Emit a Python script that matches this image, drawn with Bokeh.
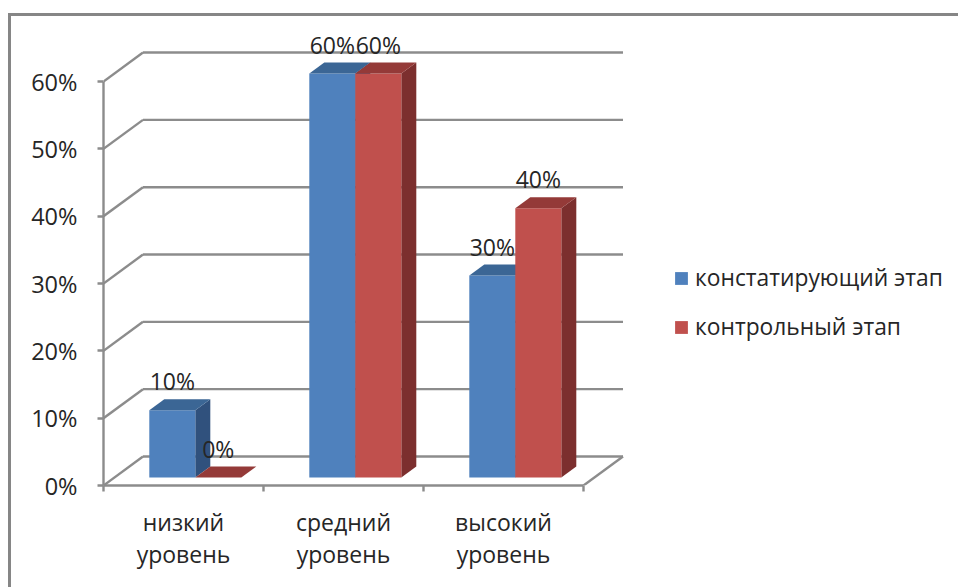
from bokeh.core.properties import value
from bokeh.embed import file_html
from bokeh.models import (ColumnDataSource, FixedTicker, Legend,
                          LegendItem, LinearAxis, Range1d)
from bokeh.plotting import figure
from bokeh.resources import INLINE

# Survey results in percent
categories = ["низкий\nуровень", "средний\nуровень", "высокий\nуровень"]
series_names = ["констатирующий этап", "контрольный этап"]
stage_a = [10, 60, 30]
stage_b = [0, 60, 40]
y_ticks = [0, 10, 20, 30, 40, 50, 60]

FONT = "Open Sans"
TEXT = "#262626"
GRID = "#8C8C8C"

# Canvas scale: one category is 160 px wide, ten percent is about 67 px tall
PX_X = 160.0
PX_Y = 6.733
W, H = 958, 587
LEFT, BOTTOM = 103, 102

# Oblique projection offsets of the box and of the bars
box_dx, box_dy = 39.5 / PX_X, 29 / PX_Y
bar_dx, bar_dy = 15 / PX_X, 11 / PX_Y
bar_w = 46 / PX_X
bar_start = 45.8 / PX_X
bar_base = 8 / PX_Y
label_lift = 29 / PX_Y

# The chart area frame runs off the right and bottom of the page
FRAME_CSS = """
:host::after {
  content: "";
  position: absolute;
  left: 8px;
  top: 12.5px;
  width: 970px;
  height: 600px;
  border: 3px solid #868686;
  pointer-events: none;
}
:host { overflow: hidden; }
"""

p = figure(
    width=W, height=H, output_backend="svg", toolbar_location=None,
    x_range=Range1d(0, (W - LEFT) / PX_X),
    y_range=Range1d(0, (H - BOTTOM) / PX_Y),
    x_axis_type=None, y_axis_type=None,
    min_border_left=LEFT, min_border_bottom=BOTTOM,
    min_border_top=0, min_border_right=0,
    stylesheets=[FRAME_CSS],
)
p.outline_line_color = None
p.grid.visible = False
p.background_fill_color = "white"
p.border_fill_color = "white"

# Back wall grid lines, side wall lines and the right floor edge
n = len(categories)
grid_xs, grid_ys = [], []
for t in y_ticks:
    grid_xs += [[box_dx, n + box_dx], [0, box_dx]]
    grid_ys += [[t + box_dy, t + box_dy], [t, t + box_dy]]
grid_xs.append([n, n + box_dx])
grid_ys.append([0, box_dy])
p.multi_line(grid_xs, grid_ys, line_color=GRID, line_width=2.4)


def draw_series(values, slot, front, top, side):
    """Draw one series as extruded bars: front faces, tops and side faces."""
    lefts = [i + bar_start + slot * bar_w for i in range(n)]
    rights = [x + bar_w for x in lefts]
    tops = [bar_base + v for v in values]
    bottoms = [bar_base] * n
    top_xs = [[l, r, r + bar_dx, l + bar_dx] for l, r in zip(lefts, rights)]
    top_ys = [[t, t, t + bar_dy, t + bar_dy] for t in tops]
    side_xs = [[r, r + bar_dx, r + bar_dx, r] for r in rights]
    side_ys = [[bar_base, bar_base + bar_dy, t + bar_dy, t] for t in tops]
    p.patches(side_xs, side_ys, fill_color=side, line_color=None)
    faces = p.quad(left=lefts, right=rights, top=tops, bottom=bottoms,
                   fill_color=front, line_color=None)
    p.patches(top_xs, top_ys, fill_color=top, line_color=None)
    return faces, lefts, tops


faces_a, lefts_a, tops_a = draw_series(stage_a, 0, "#4F81BD", "#3B6695", "#30517D")
faces_b, lefts_b, tops_b = draw_series(stage_b, 1, "#C0504D", "#943A38", "#7C2F2E")

# Value labels above each bar
label_x = [x + bar_w / 2 for x in lefts_a + lefts_b]
label_y = [t + label_lift for t in tops_a + tops_b]
label_t = [f"{v}%" for v in stage_a + stage_b]
p.text(x="x", y="y", text="t",
       source=ColumnDataSource(dict(x=label_x, y=label_y, t=label_t)),
       text_font=value(FONT), text_font_size="23px", text_color=TEXT,
       text_align="center", text_baseline="middle")

# Value axis
y_axis = LinearAxis(
    bounds=(0, 60), ticker=FixedTicker(ticks=y_ticks),
    major_label_overrides={t: f"{t}%" for t in y_ticks},
    major_label_text_font=FONT, major_label_text_font_size="23.5px",
    major_label_text_color=TEXT, major_label_standoff=20,
    major_tick_in=0, major_tick_out=6, minor_tick_line_color=None,
    major_tick_line_color=GRID, major_tick_line_width=2.4,
    axis_line_color=GRID, axis_line_width=2.4,
)
p.add_layout(y_axis, "left")

# Category axis: labels sit between the ticks, so the ticks are minor ones
centers = [i + 0.5 for i in range(n)]
x_axis = LinearAxis(
    bounds=(0, n),
    ticker=FixedTicker(ticks=centers, minor_ticks=list(range(n + 1))),
    major_label_overrides=dict(zip(centers, categories)),
    major_label_text_font=FONT, major_label_text_font_size="23px",
    major_label_text_color=TEXT, major_label_standoff=14,
    major_label_text_line_height=1.0,
    major_tick_line_color=None, major_tick_in=0, major_tick_out=0,
    minor_tick_in=0, minor_tick_out=6,
    minor_tick_line_color=GRID, minor_tick_line_width=2.4,
    axis_line_color=GRID, axis_line_width=2.4,
)
p.add_layout(x_axis, "below")

legend = Legend(
    items=[LegendItem(label=series_names[0], renderers=[faces_a]),
           LegendItem(label=series_names[1], renderers=[faces_b])],
    location=(570, 143), orientation="vertical",
    glyph_width=16, glyph_height=16, label_width=200, label_height=16,
    spacing=18, padding=0, margin=0, label_standoff=6,
    border_line_color=None, background_fill_alpha=0,
    label_text_font=FONT, label_text_font_size="22.8px", label_text_color=TEXT,
)
p.add_layout(legend, "center")

open("out.html", "w").write(file_html(p, INLINE))
